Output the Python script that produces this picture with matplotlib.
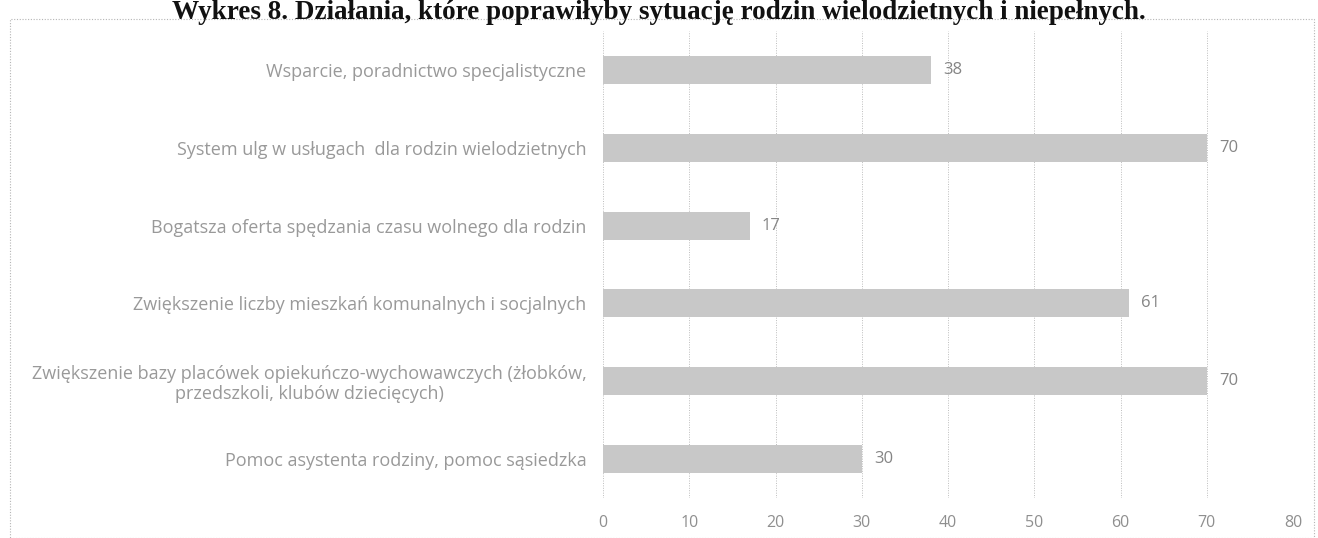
import matplotlib
matplotlib.use("Agg")
import matplotlib.pyplot as plt
from matplotlib.patches import Rectangle

title = "Wykres 8. Działania, które poprawiłyby sytuację rodzin wielodzietnych i niepełnych."
categories = [
    "Wsparcie, poradnictwo specjalistyczne",
    "System ulg w usługach  dla rodzin wielodzietnych",
    "Bogatsza oferta spędzania czasu wolnego dla rodzin",
    "Zwiększenie liczby mieszkań komunalnych i socjalnych",
    "Zwiększenie bazy placówek opiekuńczo-wychowawczych (żłobków,\nprzedszkoli, klubów dziecięcych)",
    "Pomoc asystenta rodziny, pomoc sąsiedzka",
]
values = [38, 70, 17, 61, 70, 30]
xticks = [0, 10, 20, 30, 40, 50, 60, 70, 80]

W, H = 1318, 538
fig = plt.figure(figsize=(W / 100, H / 100), dpi=100)
fig.patch.set_facecolor("white")

# outer dotted frame
frame = Rectangle((10 / W, 0.0), (W - 14) / W, (H - 19) / H, transform=fig.transFigure,
                  fill=False, edgecolor="#b5b5b5", linewidth=0.8, linestyle=(0, (1, 1.5)))
fig.patches.append(frame)

ax = fig.add_axes([603 / W, 1 - 498 / H, (1293 - 603) / W, (498 - 31) / H])
ypos = list(range(len(categories)))
ax.barh(ypos, values, height=0.36, color="#c8c8c8", edgecolor="none", zorder=3)
ax.set_ylim(len(categories) - 0.5, -0.5)
ax.set_xlim(0, 80)
ax.set_xticks(xticks)
ax.set_xticklabels([str(t) for t in xticks], color="#8f8f8f", fontsize=11.5, family="Open Sans")
ax.set_yticks(ypos)
ax.set_yticklabels(categories, color="#999999", fontsize=13, family="Open Sans",
                   ha="right", multialignment="center", linespacing=1.15)
ax.tick_params(axis="y", length=0, pad=12)
ax.tick_params(axis="x", length=0, pad=12)
for s in ax.spines.values():
    s.set_visible(False)
ax.grid(axis="x", color="#bdbdbd", linewidth=0.7, linestyle=(0, (1, 1.5)), zorder=0)
for y, v in zip(ypos, values):
    ax.text(v + 1.4, y, str(v), va="center", ha="left", color="#858585", fontsize=12,
            family="Open Sans")

fig.text(0.5, 1 - 19 / H, title, ha="center", va="baseline", fontsize=19.5,
         fontweight="bold", family="Liberation Serif", color="#111111")

fig.savefig("out.png", dpi=100)
